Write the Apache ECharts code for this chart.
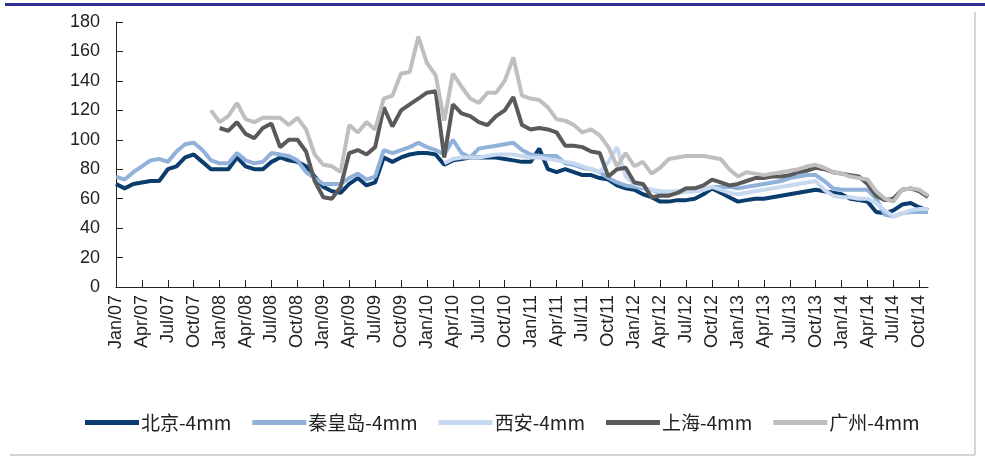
<!DOCTYPE html>
<html>
<head>
<meta charset="utf-8">
<script src="https://cdn.jsdelivr.net/npm/echarts@6/dist/echarts.min.js"></script>
<style>
  html, body { margin: 0; padding: 0; background: #fff; }
  #main { width: 985px; height: 461px; }
</style>
</head>
<body>
<div id="main"></div>
<script>
// 月度类目 Jan/07 ~ Nov/14
var monthNames = ["Jan", "Feb", "Mar", "Apr", "May", "Jun", "Jul", "Aug", "Sep", "Oct", "Nov", "Dec"];
var categories = [];
for (var y = 7; y <= 14; y++) {
  for (var m = 0; m < 12; m++) {
    if (y === 14 && m > 10) break;
    categories.push(monthNames[m] + "/" + (y < 10 ? "0" + y : y));
  }
}

var seriesNames = ["北京-4mm", "秦皇岛-4mm", "西安-4mm", "上海-4mm", "广州-4mm"];

var beijing = [
  70, 67, 70, 71, 72, 72, 80, 82, 88, 90,
  85, 80, 80, 80, 88, 82, 80, 80, 85, 88,
  86, 85, 82, 75, 68, 65, 64, 70, 74, 69,
  71, 88, 85, 88, 90, 91, 91, 90, 83, 86,
  87, 88, 88, 88, 88, 87, 86, 85, 85, 94,
  80, 78, 80, 78, 76, 76, 74, 73, 69, 67,
  66, 63, 61, 58, 58, 59, 59, 60, 63, 67,
  64, 61, 58, 59, 60, 60, 61, 62, 63, 64,
  65, 66, 65, 64, 63, 60, 59, 58, 51, 50,
  52, 56, 57, 54, 52
];
var qinhuangdao = [
  75, 73, 78, 82, 86, 87, 85, 92, 97, 98,
  93, 86, 84, 84, 91, 86, 84, 85, 91, 90,
  89, 86, 78, 74, 70, 70, 70, 74, 77, 73,
  75, 93, 91, 93, 95, 98, 95, 93, 90, 100,
  91, 88, 94, 95, 96, 97, 98, 93, 90, 89,
  89, 89, 84, 83, 81, 80, 78, 74, 71, 69,
  68, 67, 66, 64, 64, 64, 65, 65, 66, 68,
  68, 68, 67, 68, 69, 70, 71, 72, 74, 75,
  76, 76, 72, 67, 66, 66, 66, 66, 60, 49,
  48, 50, 51, 51, 51
];
var xian = [
  null, null, null, null, null, null, null, null, null, null,
  null, null, null, null, null, null, null, null, null, null,
  null, null, null, null, null, null, null, null, null, null,
  null, null, null, null, null, null, null, null, 84, 87,
  88, 88, 88, 89, 90, 90, 90, 89, 88, 88,
  87, 86, 85, 84, 82, 80, 78, 85, 95, 75,
  70, 68, 66, 65, 65, 65, 65, 65, 66, 68,
  66, 64, 63, 64, 65, 66, 67, 68, 69, 70,
  71, 72, 66, 62, 61, 61, 60, 60, 57, 52,
  48, 50, 52, 53, 53
];
var shanghai = [
  null, null, null, null, null, null, null, null, null, null,
  null, null, 108, 106, 112, 104, 101, 108, 111, 95,
  100, 100, 92, 72, 61, 60, 68, 91, 93, 90,
  95, 122, 109, 120, 124, 128, 132, 133, 88, 124,
  118, 116, 112, 110, 116, 120, 129, 110, 107, 108,
  107, 105, 96, 96, 95, 92, 91, 75, 80, 81,
  71, 70, 61, 62, 62, 64, 67, 67, 69, 73,
  71, 69, 70, 72, 74, 74, 75, 75, 76, 78,
  79, 81, 80, 78, 77, 76, 75, 70, 62, 59,
  60, 66, 67, 65, 61
];
var guangzhou = [
  null, null, null, null, null, null, null, null, null, null,
  null, 120, 112, 116, 125, 114, 112, 115, 115, 115,
  110, 115, 107, 90, 83, 82, 78, 110, 105, 112,
  107, 128, 130, 145, 146, 170, 152, 144, 113, 145,
  136, 128, 125, 132, 132, 140, 156, 130, 128, 127,
  122, 114, 113, 110, 105, 107, 103, 95, 82, 91,
  82, 85, 77, 81, 87, 88, 89, 89, 89, 88,
  87, 80, 75, 78, 77, 76, 77, 78, 79, 80,
  82, 83, 81, 78, 77, 75, 74, 73, 65, 60,
  58, 66, 67, 66, 62
];

var colors = ["#0b3c6e", "#8fb1da", "#c6d9f0", "#5a5a5a", "#bfbfbf"];
var allData = [beijing, qinhuangdao, xian, shanghai, guangzhou];

var chart = echarts.init(document.getElementById("main"));

var option = {
  backgroundColor: "#fff",
  animation: false,
  color: colors,
  grid: { left: 116, right: 57, top: 22, bottom: 174, containLabel: false },
  legend: {
    data: seriesNames,
    left: 80,
    top: 408,
    icon: "rect",
    itemWidth: 54,
    itemHeight: 5,
    itemGap: 21,
    textStyle: { fontSize: 19, color: "#222", fontFamily: "Noto Sans CJK SC", padding: [0, 0, 0, -3] }
  },
  xAxis: {
    type: "category",
    data: categories,
    boundaryGap: false,
    axisLine: { lineStyle: { color: "#222", width: 1 } },
    axisTick: { inside: true, length: 7, interval: 2, lineStyle: { color: "#222" } },
    axisLabel: {
      interval: 2,
      rotate: 90,
      margin: 8,
      fontSize: 18,
      color: "#222",
      fontFamily: "Liberation Sans"
    },
    splitLine: { show: false }
  },
  yAxis: {
    type: "value",
    min: 0,
    max: 180,
    interval: 20,
    axisLine: { show: true, lineStyle: { color: "#222", width: 1 } },
    axisTick: { show: true, inside: true, length: 7, lineStyle: { color: "#222" } },
    axisLabel: { fontSize: 18, color: "#222", margin: 16, fontFamily: "Liberation Sans" },
    splitLine: { show: false }
  },
  graphic: [
    { type: "rect", shape: { x: 5, y: 3, width: 980, height: 3 }, style: { fill: "#2e3192" } },
    { type: "line", shape: { x1: 975, y1: 12, x2: 975, y2: 455 }, style: { stroke: "#c8c8c8", lineWidth: 1.5 } },
    { type: "line", shape: { x1: 10, y1: 455, x2: 975, y2: 455 }, style: { stroke: "#c8c8c8", lineWidth: 1.5 } }
  ],
  series: seriesNames.map(function (name, i) {
    return {
      name: name,
      type: "line",
      data: allData[i],
      showSymbol: false,
      connectNulls: false,
      lineStyle: { width: 4, color: colors[i] },
      itemStyle: { color: colors[i] }
    };
  })
};

chart.setOption(option);
</script>
</body>
</html>
